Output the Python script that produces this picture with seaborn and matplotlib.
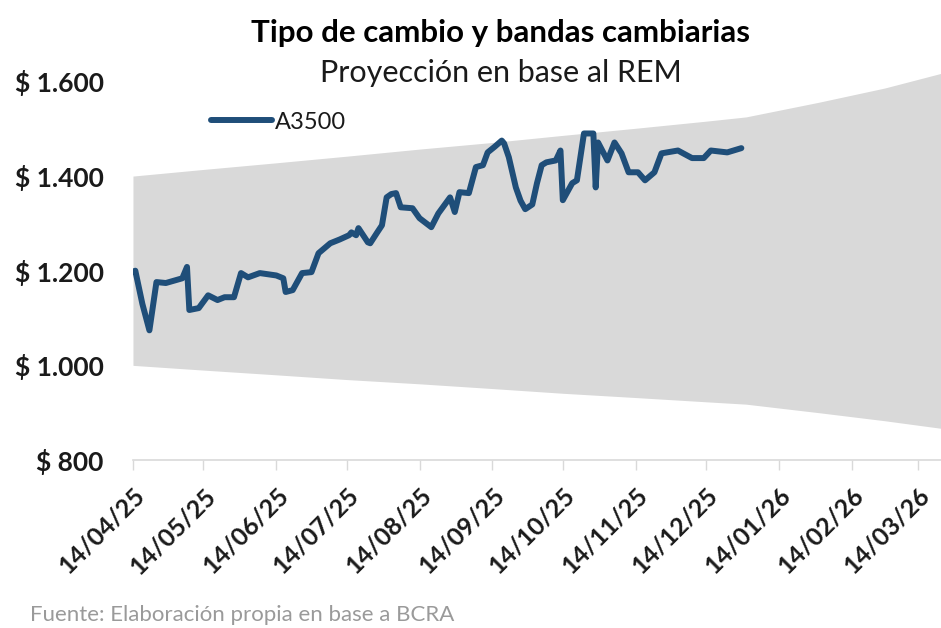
import pandas as pd
import numpy as np
import matplotlib
matplotlib.use("Agg")
import matplotlib.pyplot as plt
import matplotlib.dates as mdates
from matplotlib.ticker import FuncFormatter
import seaborn as sns

# A3500 wholesale rate
a3500_dates = ["2025-04-14", "2025-04-15", "2025-04-18", "2025-04-21", "2025-04-24", "2025-04-28",
               "2025-05-05", "2025-05-07", "2025-05-08", "2025-05-12", "2025-05-16",
               "2025-05-20", "2025-05-23", "2025-05-27", "2025-05-30", "2025-06-02",
               "2025-06-07", "2025-06-14", "2025-06-17", "2025-06-18", "2025-06-21",
               "2025-06-25", "2025-06-29", "2025-07-02", "2025-07-07", "2025-07-11", "2025-07-15",
               "2025-07-16", "2025-07-18", "2025-07-19", "2025-07-23", "2025-07-24",
               "2025-07-27", "2025-07-29", "2025-07-31", "2025-08-02", "2025-08-04", "2025-08-06",
               "2025-08-11", "2025-08-14", "2025-08-19", "2025-08-22", "2025-08-27",
               "2025-08-29", "2025-08-31", "2025-09-04", "2025-09-07", "2025-09-10",
               "2025-09-12", "2025-09-15", "2025-09-18", "2025-09-19", "2025-09-21", "2025-09-24",
               "2025-09-26", "2025-09-28", "2025-10-01", "2025-10-03",
               "2025-10-05", "2025-10-07", "2025-10-11", "2025-10-13", "2025-10-14",
               "2025-10-18", "2025-10-20", "2025-10-23", "2025-10-27", "2025-10-28",
               "2025-10-29", "2025-11-02", "2025-11-05", "2025-11-08", "2025-11-11",
               "2025-11-15", "2025-11-18", "2025-11-22", "2025-11-25", "2025-12-02",
               "2025-12-08", "2025-12-13", "2025-12-16", "2025-12-23", "2025-12-29"]
a3500_values = [1198, 1200, 1130, 1074, 1176, 1174,
                1184, 1208, 1117, 1121, 1148,
                1138, 1144, 1144, 1195, 1186,
                1195, 1190, 1184, 1155, 1159,
                1195, 1197, 1237, 1258, 1266, 1275,
                1281, 1275, 1290, 1260, 1258,
                1281, 1296, 1355, 1362, 1364, 1334,
                1332, 1311, 1292, 1321, 1355,
                1324, 1366, 1364, 1419, 1423,
                1450, 1462, 1475, 1469, 1440, 1376,
                1348, 1330, 1340, 1385,
                1423, 1429, 1433, 1454, 1349,
                1385, 1391, 1490, 1490, 1376,
                1471, 1433, 1471, 1448, 1408,
                1408, 1391, 1408, 1448, 1454,
                1438, 1438, 1454, 1450, 1459]

# exchange rate bands (REM projection from 2026)
band_dates = ["2025-04-14", "2025-05-14", "2025-06-14", "2025-07-14", "2025-08-14",
              "2025-09-14", "2025-10-14", "2025-11-14", "2025-12-14", "2025-12-31",
              "2026-01-31", "2026-02-28", "2026-03-24"]
band_upper = [1400, 1414, 1428, 1442, 1457, 1471, 1486, 1501, 1516, 1525, 1556, 1586, 1617]
band_lower = [1000, 990, 980, 970, 961, 951, 941, 932, 923, 918, 900, 883, 867]

y_ticks = [800, 1000, 1200, 1400, 1600]
x_ticks = ["2025-04-14", "2025-05-14", "2025-06-14", "2025-07-14", "2025-08-14",
           "2025-09-14", "2025-10-14", "2025-11-14", "2025-12-14", "2026-01-14",
           "2026-02-14", "2026-03-14"]

df = pd.DataFrame({"fecha": pd.to_datetime(a3500_dates), "A3500": a3500_values})
bands = pd.DataFrame({"fecha": pd.to_datetime(band_dates), "sup": band_upper, "inf": band_lower})

sns.set_theme(style="white")
plt.rcParams["font.family"] = ["Lato", "DejaVu Sans"]

fig = plt.figure(figsize=(9.41, 6.28), dpi=100)
ax = fig.add_axes([0.1413, 0.2675, 0.8587, 0.633])

ax.fill_between(bands["fecha"], bands["inf"], bands["sup"], color="#D9D9D9", lw=0, zorder=1)
sns.lineplot(data=df, x="fecha", y="A3500", ax=ax, color="#1F4E79", lw=4.3,
             label="A3500", zorder=3)
for ln in ax.get_lines():
    ln.set_solid_joinstyle("round")
    ln.set_solid_capstyle("round")

ax.set_xlim(pd.Timestamp("2025-04-14"), pd.Timestamp("2026-03-24"))
ax.set_ylim(800, 1640)
ax.set_yticks(y_ticks)
ax.yaxis.set_major_formatter(FuncFormatter(lambda v, p: "$ " + f"{int(v):,}".replace(",", ".")))
ax.set_xticks(pd.to_datetime(x_ticks))
ax.xaxis.set_major_formatter(mdates.DateFormatter("%d/%m/%y"))
ax.set_xlabel("")
ax.set_ylabel("")

for s in ["top", "right", "left"]:
    ax.spines[s].set_visible(False)
ax.spines["bottom"].set_color("#D9D9D9")
ax.spines["bottom"].set_linewidth(1.2)
ax.tick_params(axis="x", which="major", direction="out", length=7, color="#D9D9D9",
               width=1, bottom=True, pad=10)
ax.tick_params(axis="y", length=0, pad=21)
for lab in ax.get_yticklabels():
    lab.set_fontsize(19)
    lab.set_fontweight("bold")
    lab.set_color("#1a1a1a")
for lab in ax.get_xticklabels():
    lab.set_fontsize(18)
    lab.set_fontweight("bold")
    lab.set_color("#1a1a1a")
    lab.set_rotation(45)
    lab.set_ha("right")
    lab.set_rotation_mode("anchor")

leg = ax.legend(loc="center left", bbox_to_anchor=(0.07, 0.85), frameon=False,
                fontsize=17, handlelength=2.6, handletextpad=0.1)
for t in leg.get_texts():
    t.set_color("#1a1a1a")
for h in leg.get_lines():
    h.set_linewidth(4.3)

fig.text(0.532, 0.947, "Tipo de cambio y bandas cambiarias", ha="center", va="center",
         fontsize=22.5, fontweight="bold", color="#000000")
fig.text(0.532, 0.884, "Proyección en base al REM", ha="center", va="center",
         fontsize=22, color="#1a1a1a")
fig.text(0.032, 0.004, "Fuente: Elaboración propia en base a BCRA", ha="left", va="bottom",
         fontsize=16, color="#9a9a9a")

fig.savefig("out.png", dpi=100)
